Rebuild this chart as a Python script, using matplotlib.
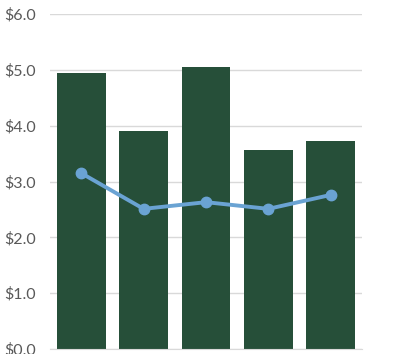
import matplotlib.pyplot as plt
from matplotlib.ticker import FuncFormatter

categories = ["A", "B", "C", "D", "E"]
bar_values = [4.95, 3.91, 5.05, 3.57, 3.73]
line_values = [3.15, 2.51, 2.63, 2.51, 2.76]

plt.rcParams['font.family'] = ['Lato', 'DejaVu Sans']

fig = plt.figure(figsize=(3.93, 3.54), dpi=100)
ax = fig.add_axes([50/393, 5/354, 312/393, 335/354])

xs = range(len(categories))
ax.bar(xs, bar_values, width=0.78, color="#264f39", zorder=2)
ax.plot(xs, line_values, color="#6aa3d3", lw=2.8, marker="o", ms=7.5, zorder=3)

ax.set_xlim(-0.5, len(categories) - 0.5)
ax.set_ylim(0, 6)
ax.set_yticks([0, 1, 2, 3, 4, 5, 6])
ax.yaxis.set_major_formatter(FuncFormatter(lambda v, p: "$%.1f" % v))
ax.grid(axis="y", color="#d9d9d9", lw=1, zorder=0)
ax.set_xticks([])
for s in ["top", "right", "left"]:
    ax.spines[s].set_visible(False)
ax.spines["bottom"].set_color("#d9d9d9")
ax.tick_params(axis="y", length=0, pad=10, labelsize=11.5, labelcolor="#595959")

fig.savefig("out.png", dpi=100)
